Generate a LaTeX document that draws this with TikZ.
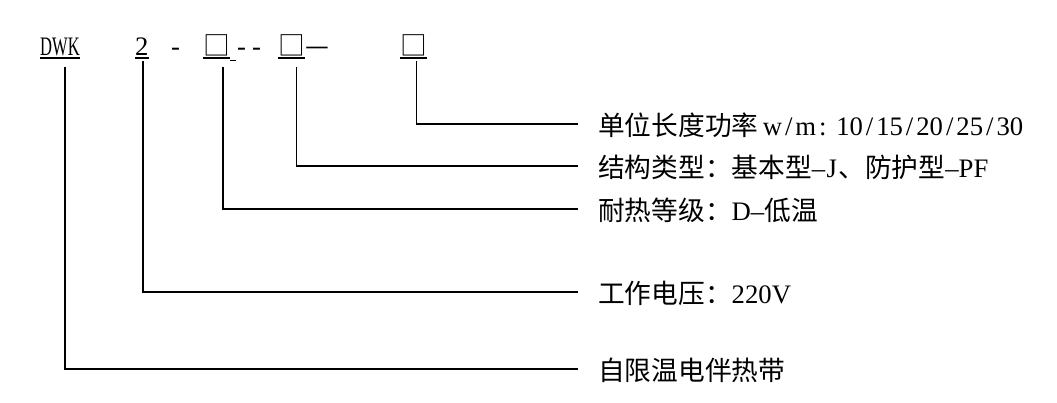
\documentclass[tikz,border=0pt]{standalone}
\usepackage{fontspec}
\setmainfont{Liberation Serif}
\newfontfamily\cjk{Noto Sans CJK SC}
\newfontfamily\narrow{Liberation Serif}[FakeStretch=0.62]
\usepackage{tikz}
\usepackage{xcolor}

% half-width cell
\newcommand\hw[1]{\makebox[0.5em]{#1}}

\tikzset{
  code/.style={anchor=base west,inner sep=0pt,font=\fontsize{26.7}{32}\selectfont},
  lbl/.style={anchor=west,inner sep=0pt,text height=22pt,text depth=0pt,font=\fontsize{26.7}{32}\selectfont},
  lead/.style={line width=1.3pt}
}

\begin{document}
\begin{tikzpicture}[x=1pt,y=-1pt]
\useasboundingbox (0,0) rectangle (1057,402);
% model code
\node[code] (dwk) at (40,55) {\narrow DWK};
\node[code] (volt) at (135,55) {2};
\node[code] (sepa) at (171,55) {-};
\node[code] (grade) at (203,55) {\cjk □};
\node[code] (sepb) at (237,55) {-\kern6pt-};
\node[code] (struct) at (278,55) {\cjk □};
\node[code] (sepc) at (305,55) {\cjk —};
\node[code] (power) at (400,55) {\cjk □};
\foreach \n in {dwk,volt,grade,struct,power}
  \draw[lead] ([yshift=-3pt]\n.base west) -- ([yshift=-3pt]\n.base east);
\draw[lead] ([yshift=-5.5pt]grade.base east) -- ++(6,0);
% labels
\node[lbl] (lpower) at (598,124) {{\cjk 单位长度功率}\,w\hw{/}m\hw{:} 10\hw{/}15\hw{/}20\hw{/}25\hw{/}30};
\node[lbl] (lstruct) at (598,166) {{\cjk 结构类型：基本型}\hw{--}\hw{J}{\cjk 、防护型}\hw{--}PF};
\node[lbl] (lgrade) at (598,209) {{\cjk 耐热等级：}D\hw{--}{\cjk 低温}};
\node[lbl] (lvolt) at (598,292) {{\cjk 工作电压：}220V};
\node[lbl] (ldwk) at (598,369) {\cjk 自限温电伴热带};
% leaders
\draw[lead] ([xshift=5pt,yshift=-12pt]dwk.base) |- ([xshift=-20pt]ldwk.west);
\draw[lead] ([xshift=1pt,yshift=-6pt]volt.base) |- ([xshift=-20pt]lvolt.west);
\draw[lead] ([xshift=6.3pt,yshift=-12pt]grade.base) |- ([xshift=-20pt]lgrade.west);
\draw[lead] ([xshift=4.7pt,yshift=-12pt]struct.base) |- ([xshift=-20pt]lstruct.west);
\draw[lead] ([xshift=2.6pt,yshift=-6pt]power.base) |- ([xshift=-20pt]lpower.west);
\end{tikzpicture}
\end{document}
